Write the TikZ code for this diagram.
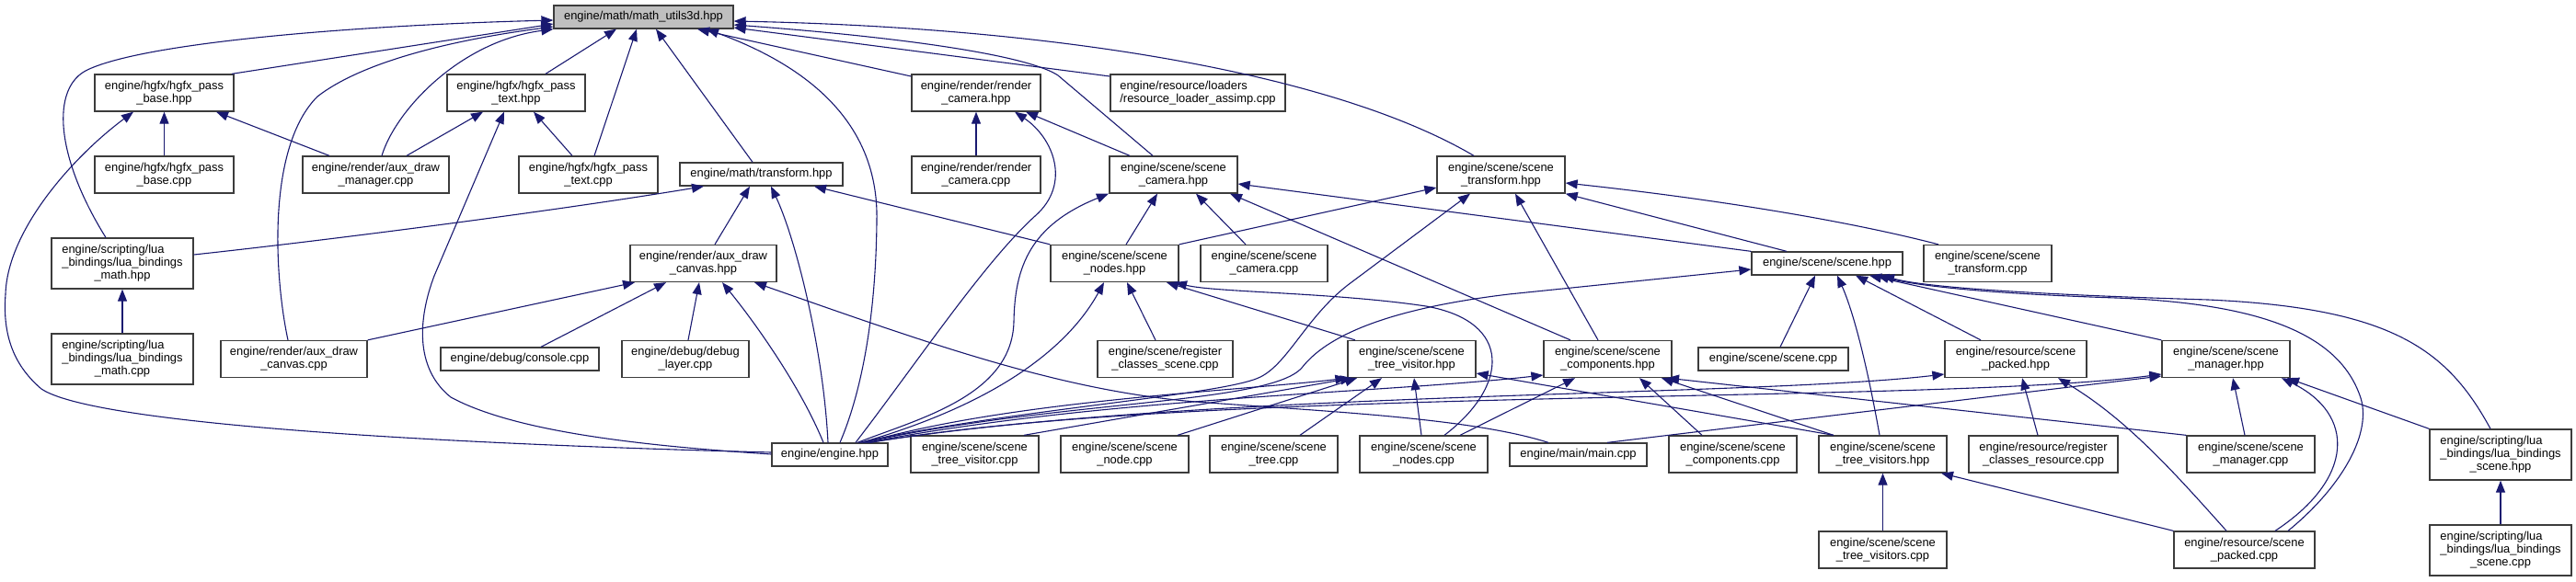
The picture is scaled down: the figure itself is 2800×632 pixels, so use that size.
\documentclass[tikz,border=0pt]{standalone}
\usepackage{fontspec}
\setmainfont{Liberation Sans}
\usetikzlibrary{arrows.meta}
\definecolor{edgecol}{RGB}{25,25,112}
\definecolor{boxline}{RGB}{60,60,60}
\definecolor{rootfill}{RGB}{191,191,191}
\begin{document}
\begin{tikzpicture}[x=1pt,y=-1pt,
  box/.style={draw=boxline, line width=1.3pt, fill=white, inner sep=0pt, align=center, font=\fontsize{12.9}{14}\selectfont},
  h1/.style={minimum height=25pt},
  h2/.style={minimum height=40pt},
  h3/.style={minimum height=55pt},
  dep/.style={draw=edgecol, line width=1.1pt, -{Triangle[length=13pt,width=10pt]}}]
\useasboundingbox (0,0) rectangle (2800,632);
% nodes
\node[box,h1,minimum width=195pt,fill=rootfill] (root) at (699.5,18.5) {engine/math/math\_utils3d.hpp};
\node[box,h2,minimum width=151pt] (hbh) at (178.5,101) {engine/hgfx/hgfx\_pass\\\_base.hpp};
\node[box,h2,minimum width=151pt] (hbc) at (178.5,190) {engine/hgfx/hgfx\_pass\\\_base.cpp};
\node[box,h2,minimum width=159pt] (adm) at (408.5,190) {engine/render/aux\_draw\\\_manager.cpp};
\node[box,h3,minimum width=154pt] (lmh) at (133,286.5) {\rlap{engine/scripting/lua}\phantom{\_bindings/lua\_bindings}\\\_bindings/lua\_bindings\\\_math.hpp};
\node[box,h3,minimum width=154pt] (lmc) at (133,390.5) {\rlap{engine/scripting/lua}\phantom{\_bindings/lua\_bindings}\\\_bindings/lua\_bindings\\\_math.cpp};
\node[box,h2,minimum width=150pt] (hth) at (561,101) {engine/hgfx/hgfx\_pass\\\_text.hpp};
\node[box,h2,minimum width=151pt] (htc) at (639.5,190) {engine/hgfx/hgfx\_pass\\\_text.cpp};
\node[box,h1,minimum width=177pt] (trh) at (827.5,189.5) {engine/math/transform.hpp};
\node[box,h2,minimum width=159pt] (adch) at (764.5,286.5) {engine/render/aux\_draw\\\_canvas.hpp};
\node[box,h2,minimum width=159pt] (adcc) at (319.5,390.5) {engine/render/aux\_draw\\\_canvas.cpp};
\node[box,h1,minimum width=172pt] (con) at (565,390.5) {engine/debug/console.cpp};
\node[box,h2,minimum width=138pt] (dbl) at (745,390.5) {engine/debug/debug\\\_layer.cpp};
\node[box,h1,minimum width=126pt] (eng) at (902,494.5) {engine/engine.hpp};
\node[box,h2,minimum width=140pt] (rch) at (1061,101) {engine/render/render\\\_camera.hpp};
\node[box,h2,minimum width=140pt] (rcc) at (1061,190) {engine/render/render\\\_camera.cpp};
\node[box,h2,minimum width=190pt] (rla) at (1302,101) {\rlap{engine/resource/loaders}\phantom{/resource\_loader\_assimp.cpp}\\/resource\_loader\_assimp.cpp};
\node[box,h2,minimum width=139pt] (sch) at (1275.5,190) {engine/scene/scene\\\_camera.hpp};
\node[box,h2,minimum width=139pt] (snh) at (1211.5,286.5) {engine/scene/scene\\\_nodes.hpp};
\node[box,h2,minimum width=138pt] (scc) at (1374,286.5) {engine/scene/scene\\\_camera.cpp};
\node[box,h2,minimum width=139pt] (sth) at (1631.5,190) {engine/scene/scene\\\_transform.hpp};
\node[box,h1,minimum width=164pt] (sh) at (1986,286.5) {engine/scene/scene.hpp};
\node[box,h2,minimum width=139pt] (stc) at (2160.5,286.5) {engine/scene/scene\\\_transform.cpp};
\node[box,h2,minimum width=147pt] (rcs) at (1266.5,390.5) {engine/scene/register\\\_classes\_scene.cpp};
\node[box,h2,minimum width=139pt] (stvc) at (1059.5,494) {engine/scene/scene\\\_tree\_visitor.cpp};
\node[box,h2,minimum width=139pt] (sndc) at (1222.5,494) {engine/scene/scene\\\_node.cpp};
\node[box,h2,minimum width=139pt] (strc) at (1384.5,494) {engine/scene/scene\\\_tree.cpp};
\node[box,h2,minimum width=139pt] (stvh) at (1534.5,390.5) {engine/scene/scene\\\_tree\_visitor.hpp};
\node[box,h2,minimum width=139pt] (scm) at (1747.5,390.5) {engine/scene/scene\\\_components.hpp};
\node[box,h2,minimum width=139pt] (snc) at (1547.5,494) {engine/scene/scene\\\_nodes.cpp};
\node[box,h1,minimum width=149pt] (mnc) at (1715.5,494.5) {engine/main/main.cpp};
\node[box,h2,minimum width=139pt] (scpc) at (1883.5,494) {engine/scene/scene\\\_components.cpp};
\node[box,h1,minimum width=163pt] (scn) at (1927.5,390.5) {engine/scene/scene.cpp};
\node[box,h2,minimum width=154pt] (sph) at (2191,390.5) {engine/resource/scene\\\_packed.hpp};
\node[box,h2,minimum width=139pt] (stvsh) at (2046.5,494) {engine/scene/scene\\\_tree\_visitors.hpp};
\node[box,h2,minimum width=162pt] (rcr) at (2221,494) {engine/resource/register\\\_classes\_resource.cpp};
\node[box,h2,minimum width=139pt] (stvsc) at (2046.5,598) {engine/scene/scene\\\_tree\_visitors.cpp};
\node[box,h2,minimum width=139pt] (smh) at (2419.5,390.5) {engine/scene/scene\\\_manager.hpp};
\node[box,h2,minimum width=139pt] (smc) at (2446.5,494) {engine/scene/scene\\\_manager.cpp};
\node[box,h2,minimum width=153pt] (spc) at (2439.5,598) {engine/resource/scene\\\_packed.cpp};
\node[box,h3,minimum width=154pt] (lsh) at (2718,494.5) {\rlap{engine/scripting/lua}\phantom{\_bindings/lua\_bindings}\\\_bindings/lua\_bindings\\\_scene.hpp};
\node[box,h3,minimum width=154pt] (lsc) at (2718,598.5) {\rlap{engine/scripting/lua}\phantom{\_bindings/lua\_bindings}\\\_bindings/lua\_bindings\\\_scene.cpp};
% edges to root
\draw[dep] (115,0 |- lmh.north) .. controls (60,170) and (55,95) .. (95,76) .. controls (160,45) and (400,27) .. (root.west |- 0,22);
\draw[dep] (252,0 |- hbh.north) -- (root.west |- 0,26);
\draw[dep] (313,0 |- adcc.north) .. controls (298,300) and (290,160) .. (345,105) .. controls (390,70) and (480,45) .. (root.west |- 0,29);
\draw[dep] (415,0 |- adm.north) .. controls (430,120) and (500,45) .. (root.south west);
\draw[dep] (593,0 |- hth.north) -- (670,0 |- root.south);
\draw[dep] (646,0 |- htc.north) -- (692,0 |- root.south);
\draw[dep] (818,0 |- trh.north) -- (713,0 |- root.south);
\draw[dep] (rch.west |- 0,83) -- (758,0 |- root.south);
\draw[dep] (913,0 |- eng.north) .. controls (935,430) and (952,350) .. (953,240) .. controls (955,150) and (900,80) .. (768,0 |- root.south);
\draw[dep] (rla.west |- 0,83) -- (root.east |- 0,30);
\draw[dep] (1253,0 |- sch.north) -- (1150,82) .. controls (1120,62) and (1000,42) .. (root.east |- 0,27);
\draw[dep] (1602,0 |- sth.north) .. controls (1450,80) and (1150,30) .. (root.east |- 0,23);
% hgfx_pass_base.hpp
\draw[dep] (hbc) -- (hbh);
\draw[dep] (358,0 |- adm.north) -- (235,0 |- hbh.south);
\draw[dep] (eng.west |- 0,492) .. controls (450,482) and (100,460) .. (45,423) .. controls (12,395) and (3,360) .. (6,320) .. controls (8,250) and (80,170) .. (145,0 |- hbh.south);
% hgfx_pass_text.hpp
\draw[dep] (442,0 |- adm.north) -- (525,0 |- hth.south);
\draw[dep] (622,0 |- htc.north) -- (580,0 |- hth.south);
\draw[dep] (eng.west |- 0,494) .. controls (700,485) and (560,470) .. (490,432) .. controls (450,400) and (455,345) .. (472,300) -- (548,0 |- hth.south);
% transform.hpp
\draw[dep] (lmh.east |- 0,277) .. controls (350,262) and (600,230) .. (765,0 |- trh.south);
\draw[dep] (777,0 |- adch.north) -- (815,0 |- trh.south);
\draw[dep] (900,0 |- eng.north) .. controls (895,380) and (865,260) .. (838,0 |- trh.south);
\draw[dep] (snh.north west) -- (885,0 |- trh.south);
% lua math
\draw[dep] (lmc) -- (lmh);
% aux_draw_canvas.hpp
\draw[dep] (adcc.north east) -- (690,0 |- adch.south);
\draw[dep] (588,0 |- con.north) -- (724,0 |- adch.south);
\draw[dep] (748,0 |- dbl.north) -- (760,0 |- adch.south);
\draw[dep] (895,0 |- eng.north) .. controls (870,420) and (820,350) .. (785,0 |- adch.south);
\draw[dep] (1683,0 |- mnc.north) .. controls (1600,455) and (1450,448) .. (1300,437) .. controls (1150,425) and (1000,370) .. (820,0 |- adch.south);
% render_camera.hpp
\draw[dep] (rcc) -- (rch);
\draw[dep] (1228,0 |- sch.north) -- (1115,0 |- rch.south);
\draw[dep] (930,0 |- eng.north) .. controls (1000,390) and (1070,285) .. (1125,235) .. controls (1165,200) and (1145,150) .. (1103,0 |- rch.south);
% scene_camera.hpp
\draw[dep] (1224,0 |- snh.north) -- (1258,0 |- sch.south);
\draw[dep] (1354,0 |- scc.north) -- (1300,0 |- sch.south);
\draw[dep] (932,0 |- eng.north) .. controls (1000,455) and (1100,430) .. (1102,350) .. controls (1103,290) and (1120,245) .. (1205,0 |- sch.south);
\draw[dep] (sh.north west) -- (sch.east |- 0,200);
\draw[dep] (1707,0 |- scm.north) -- (1337,0 |- sch.south);
% scene_transform.hpp
\draw[dep] (snh.north east) -- (sth.west |- 0,204);
\draw[dep] (2107,0 |- stc.north) .. controls (2000,238) and (1850,215) .. (sth.east |- 0,199);
\draw[dep] (1942,0 |- sh.north) -- (sth.south east);
\draw[dep] (1737,0 |- scm.north) -- (1647,0 |- sth.south);
\draw[dep] (934,0 |- eng.north) .. controls (1100,445) and (1330,430) .. (1370,410) .. controls (1400,395) and (1420,345) .. (1465,310) -- (1598,0 |- sth.south);
% scene_nodes.hpp
\draw[dep] (936,0 |- eng.north) .. controls (1080,440) and (1160,380) .. (1200,0 |- snh.south);
\draw[dep] (1256,0 |- rcs.north) -- (1225,0 |- snh.south);
\draw[dep] (1473,0 |- stvh.north) -- (1268,0 |- snh.south);
\draw[dep] (1570,0 |- snc.north) .. controls (1640,420) and (1645,350) .. (1550,333) .. controls (1450,318) and (1320,318) .. (1277,0 |- snh.south);
% scene.hpp
\draw[dep] (938,0 |- eng.north) .. controls (1150,435) and (1380,440) .. (1415,400) .. controls (1450,355) and (1540,332) .. (1640,320) -- (sh.west |- 0,293);
\draw[dep] (1935,0 |- scn.north) -- (1973,0 |- sh.south);
\draw[dep] (2043,0 |- stvsh.north) .. controls (2030,400) and (2015,340) .. (1997,0 |- sh.south);
\draw[dep] (2153,0 |- sph.north) -- (2017,0 |- sh.south);
\draw[dep] (smh.north west) -- (2032,0 |- sh.south);
\draw[dep] (2487,0 |- spc.north) .. controls (2545,530) and (2580,470) .. (2565,430) .. controls (2540,360) and (2450,330) .. (2300,324) .. controls (2150,319) and (2080,310) .. (2040,0 |- sh.south);
\draw[dep] (2707,0 |- lsh.north) .. controls (2660,380) and (2600,335) .. (2400,326) .. controls (2200,320) and (2090,312) .. (2046,0 |- sh.south);
% scene_tree_visitor.hpp
\draw[dep] (940,0 |- eng.north) .. controls (1100,435) and (1350,425) .. (stvh.south west);
\draw[dep] (1113,0 |- stvc.north) -- (1470,0 |- stvh.south);
\draw[dep] (1280,0 |- sndc.north) -- (1475,0 |- stvh.south);
\draw[dep] (1413,0 |- strc.north) -- (1502,0 |- stvh.south);
\draw[dep] (1545,0 |- snc.north) -- (1537,0 |- stvh.south);
\draw[dep] (1993,0 |- stvsh.north) -- (stvh.east |- 0,406);
% scene_components.hpp
\draw[dep] (942,0 |- eng.north) .. controls (1200,432) and (1500,428) .. (scm.west |- 0,408);
\draw[dep] (1587,0 |- snc.north) -- (1712,0 |- scm.south);
\draw[dep] (1850,0 |- scpc.north) -- (1782,0 |- scm.south);
\draw[dep] (1993,0 |- stvsh.north) -- (1806,0 |- scm.south);
\draw[dep] (smc.north west) -- (1812,0 |- scm.south);
% scene_packed.hpp
\draw[dep] (944,0 |- eng.north) .. controls (1300,425) and (1900,432) .. (sph.west |- 0,407);
\draw[dep] (2215,0 |- rcr.north) -- (2198,0 |- sph.south);
\draw[dep] (2420,0 |- spc.north) .. controls (2360,510) and (2310,455) .. (2237,0 |- sph.south);
% scene_manager.hpp
\draw[dep] (946,0 |- eng.north) .. controls (1300,420) and (2100,440) .. (smh.west |- 0,407);
\draw[dep] (1747,0 |- mnc.north) -- (smh.west |- 0,409);
\draw[dep] (2440,0 |- smc.north) -- (2427,0 |- smh.south);
\draw[dep] (2473,0 |- spc.north) .. controls (2560,520) and (2560,450) .. (2480,0 |- smh.south);
\draw[dep] (lsh.north west) -- (2486,0 |- smh.south);
% scene_tree_visitors.hpp
\draw[dep] (stvsc) -- (stvsh);
\draw[dep] (spc.north west) -- (2110,0 |- stvsh.south);
% lua scene
\draw[dep] (lsc) -- (lsh);
\end{tikzpicture}
\end{document}
